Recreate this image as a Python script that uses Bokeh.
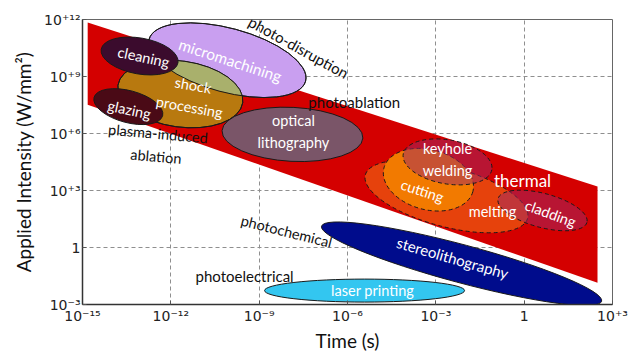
import numpy as np
from bokeh.plotting import figure
from bokeh.models import Range1d, FixedTicker, CustomJSTickFormatter, ColumnDataSource
from bokeh.core.properties import value
from bokeh.embed import file_html
from bokeh.resources import INLINE

FONT = "Lato"

# ---------------------------------------------------------------- data
# axis ticks (time in s, intensity in W/mm^2) and their labels
x_ticks = [1e-15, 1e-12, 1e-9, 1e-6, 1e-3, 1, 1e3]
x_tick_labels = ["10⁻¹⁵", "10⁻¹²", "10⁻⁹", "10⁻⁶", "10⁻³", "1", "10⁺³"]
y_ticks = [1e-3, 1, 1e3, 1e6, 1e9, 1e12]
y_tick_labels = ["10⁻³", "1", "10⁺³", "10⁺⁶", "10⁺⁹", "10⁺¹²"]

# overall laser-processing band (corner points)
band_time = [1.5e-15, 310, 310, 1.5e-15]
band_intensity = [6.9e11, 1.6e3, 0.014, 3.3e7]

# process windows: centre pulse time (s) and centre intensity (W/mm^2)
process_names = ["micromachining", "shock\nprocessing", "cleaning", "glazing",
                 "optical\nlithography", "melting", "cutting", "keyhole\nwelding",
                 "cladding", "stereolithography", "laser printing"]
process_time = [8.3e-11, 2.1e-12, 8.7e-14, 3.6e-14, 1.35e-8,
                2.3e-3, 5.6e-4, 2.5e-3, 4.2, 7.5e-3, 3.8e-6]
process_intensity = [7.2e9, 1.2e8, 1.2e10, 2.6e7, 9e5,
                     4.8e2, 3.7e3, 3.2e4, 89, 0.14, 5.4e-3]

# interaction regimes
regime_names = ["photo-disruption", "photoablation", "plasma-induced\nablation",
                "photochemical", "photoelectrical", "thermal"]
regime_time = [2.2e-8, 1.7e-6, 3.4e-13, 8.5e-9, 3.2e-10, 0.88]
regime_intensity = [3.5e10, 4.8e7, 2.5e5, 7.1, 0.032, 3.2e3]

# ---------------------------------------------------------------- styles
W, H = 630, 354
BORDER_L, BORDER_R, BORDER_T, BORDER_B = 82, 18, 19, 47
FRAME_W, FRAME_H = W - BORDER_L - BORDER_R, H - BORDER_T - BORDER_B
PX_X = FRAME_W / 18.0   # pixels per decade of time
PX_Y = FRAME_H / 15.0   # pixels per decade of intensity

ell_w = [162, 126, 78, 71, 141, 168, 92, 90, 92, 290, 200]
ell_h = [64, 66, 36, 32, 54, 60, 60, 44, 34, 38, 23]
ell_angle = [-15, -8, -10, -15, -3, -15, -15, -10, -15, -15, 0]
ell_fill = ["#c99ff0", "#b8790f", "#3b0b2d", "#4a0a16", "#7a5568",
            "#e6420c", "#f27a00", "#9c2a66", "#9c2a66", "#000c8c", "#33c6f0"]
ell_alpha = [1, 1, 1, 1, 1, 1, 1, 0.5, 0.5, 1, 1]
ell_dash = ["solid", "solid", "solid", "solid", "solid",
            "4 3", "4 3", "4 3", "4 3", "solid", "solid"]
lab_dx = [3, 11, 4, 1, 1, 46, -6, 0, 8, -9, 8]
lab_dy = [0, 2, 1, 3, -3, 15, 11, -2, 3, -6, 0]
lab_angle = [-18, -10, -12, -12, 0, 0, -18, 0, -20, -16, 0]
lab_size = ["15.5px", "14.5px", "14.5px", "14.5px", "14.5px", "14.5px", "14.5px",
            "14.5px", "14.5px", "15px", "14.5px"]

reg_angle = [-29, 0, -5, -14, 0, 0]
reg_color = ["#111111", "#111111", "#111111", "#111111", "#111111", "#ffffff"]
reg_size = ["15px", "15px", "14.5px", "14.5px", "15px", "17px"]

# ---------------------------------------------------------------- figure
p = figure(width=W, height=H, x_axis_type="log", y_axis_type="log",
           x_range=Range1d(1e-15, 1e3), y_range=Range1d(1e-3, 1e12),
           output_backend="svg", toolbar_location=None,
           min_border_left=BORDER_L, min_border_right=BORDER_R,
           min_border_top=BORDER_T, min_border_bottom=BORDER_B,
           background_fill_color="white", border_fill_color="white")
p.outline_line_color = "#666666"
p.outline_line_width = 1

fmt_js = """
const lt = Math.log10(tick);
for (let i = 0; i < tick_values.length; i++) {
  if (Math.abs(Math.log10(tick_values[i]) - lt) < 1e-6) { return tick_labels[i]; }
}
return "";
"""
p.xaxis.ticker = FixedTicker(ticks=x_ticks)
p.yaxis.ticker = FixedTicker(ticks=y_ticks)
p.xaxis.formatter = CustomJSTickFormatter(
    args=dict(tick_values=x_ticks, tick_labels=x_tick_labels), code=fmt_js)
p.yaxis.formatter = CustomJSTickFormatter(
    args=dict(tick_values=y_ticks, tick_labels=y_tick_labels), code=fmt_js)

for ax in (p.xaxis, p.yaxis):
    ax.major_label_text_font = "DejaVu Sans"
    ax.major_label_text_font_size = "14px"
    ax.major_label_text_color = "#222222"
    ax.axis_label_text_font = FONT
    ax.axis_label_text_font_size = "19px"
    ax.axis_label_text_font_style = "normal"
    ax.axis_label_text_color = "#111111"
    ax.axis_line_color = "#333333"
    ax.axis_line_width = 1.5
    ax.major_tick_in = 4
    ax.major_tick_out = 0
    ax.major_tick_line_color = "#555555"
    ax.minor_tick_line_color = None
p.xaxis.axis_label = "Time (s)"
p.yaxis.axis_label = "Applied Intensity (W/mm²)"
p.xaxis.major_label_standoff = 3
p.yaxis.major_label_standoff = 2
p.xaxis.axis_label_standoff = 2
p.yaxis.axis_label_standoff = 6

for g in (p.xgrid, p.ygrid):
    g.grid_line_color = "#8f8f8f"
    g.grid_line_dash = "4 3"
    g.grid_line_width = 1

# processing band
p.patch(band_time, band_intensity, fill_color="#d40000", line_color=None)

src = ColumnDataSource(dict(
    x=process_time, y=process_intensity, w=ell_w, h=ell_h, ang=ell_angle,
    fill=ell_fill, alpha=ell_alpha, dash=ell_dash, name=process_names,
    dx=lab_dx, dy=lab_dy, lang=lab_angle, fs=lab_size))


def centre_px(i):
    return np.log10(process_time[i]) * PX_X, np.log10(process_intensity[i]) * PX_Y


def outline_px(i, n=480):
    cx, cy = centre_px(i)
    a, b = ell_w[i] / 2, ell_h[i] / 2
    phi = np.radians(ell_angle[i])
    t = np.linspace(0, 2 * np.pi, n, endpoint=False)
    u, v = a * np.cos(t), b * np.sin(t)
    return cx + u * np.cos(phi) - v * np.sin(phi), cy + u * np.sin(phi) + v * np.cos(phi)


def inside(i, x, y):
    cx, cy = centre_px(i)
    a, b = ell_w[i] / 2, ell_h[i] / 2
    phi = np.radians(ell_angle[i])
    dx, dy = x - cx, y - cy
    u = dx * np.cos(phi) + dy * np.sin(phi)
    v = -dx * np.sin(phi) + dy * np.cos(phi)
    return (u / a) ** 2 + (v / b) ** 2 <= 1


def overlap(i, j):
    xa, ya = outline_px(i)
    xb, yb = outline_px(j)
    ma, mb = inside(j, xa, ya), inside(i, xb, yb)
    xs = np.concatenate([xa[ma], xb[mb]])
    ys = np.concatenate([ya[ma], yb[mb]])
    order = np.argsort(np.arctan2(ys - ys.mean(), xs - xs.mean()))
    return 10 ** (xs[order] / PX_X), 10 ** (ys[order] / PX_Y)


def draw(rows, fill=True):
    view = ColumnDataSource({k: [v[r] for r in rows] for k, v in src.data.items()})
    p.ellipse(x="x", y="y", width="w", height="h", angle="ang", angle_units="deg",
              width_units="screen", height_units="screen", source=view,
              fill_color="fill" if fill else None, fill_alpha="alpha",
              line_color="#1a1a1a", line_width=1, line_dash="dash")
    return view


# micromachining and shock processing, with their shared region
draw([0, 1])
ox, oy = overlap(0, 1)
p.patch(ox, oy, fill_color="#a9b06c", line_color=None)
draw([0, 1], fill=False)
# remaining process windows
draw([2, 3, 4, 5, 6, 7, 8, 9, 10])

# process labels
p.text(x="x", y="y", text="name", source=src, x_offset="dx", y_offset="dy",
       angle="lang", angle_units="deg", text_align="center", text_baseline="middle",
       text_color="white", text_font=value(FONT), text_font_size="fs",
       text_line_height=1.3)

# regime labels
reg_src = ColumnDataSource(dict(x=regime_time, y=regime_intensity, name=regime_names,
                                ang=reg_angle, col=reg_color, fs=reg_size))
p.text(x="x", y="y", text="name", source=reg_src, angle="ang", angle_units="deg",
       text_align="center", text_baseline="middle", text_color="col",
       text_font=value(FONT), text_font_size="fs", text_line_height=1.35)

open("out.html", "w").write(file_html(p, INLINE))
